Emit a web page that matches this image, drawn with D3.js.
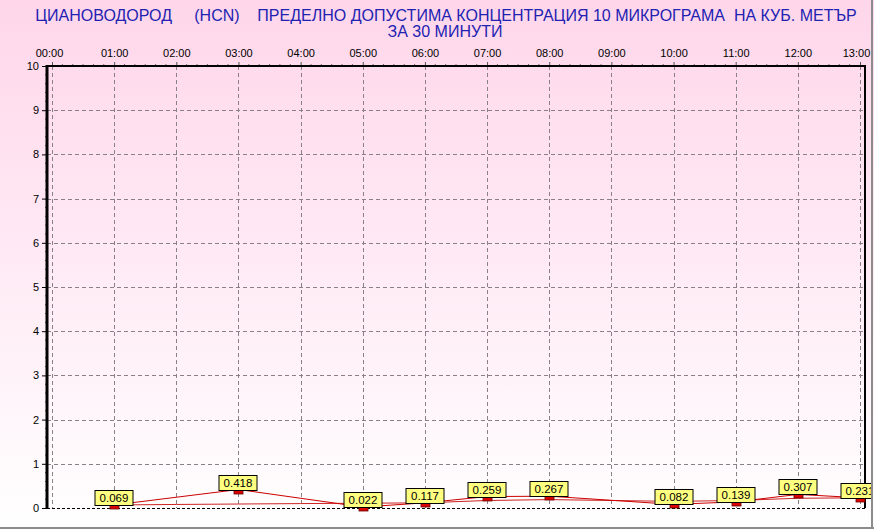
<!DOCTYPE html>
<html><head><meta charset="utf-8">
<script src="https://cdn.jsdelivr.net/npm/d3@7"></script>
<style>
html,body{margin:0;padding:0;background:#fff;}
svg{display:block;font-family:"Liberation Sans",Arial,sans-serif;}
</style></head>
<body><svg id="c" width="874" height="529"></svg>
<script>
const titleLines = ["ЦИАНОВОДОРОД     (HCN)    ПРЕДЕЛНО ДОПУСТИМА КОНЦЕНТРАЦИЯ 10 МИКРОГРАМА  НА КУБ. МЕТЪР", "ЗА 30 МИНУТИ"];
const hourLabels = ["00:00","01:00","02:00","03:00","04:00","05:00","06:00","07:00","08:00","09:00","10:00","11:00","12:00","13:00"];
const obsHours = [1,3,5,6,7,8,10,11,12,13];
const obsValues = [0.069,0.418,0.022,0.117,0.259,0.267,0.082,0.139,0.307,0.231];
const trendHours = [1,2,3,4,5,6,7,8,9,10,11,12,13];
const trendValues = [0.069,0.08,0.09,0.10,0.108,0.117,0.17,0.19,0.17,0.15,0.17,0.22,0.231];
const yTickValues = [0,1,2,3,4,5,6,7,8,9,10];

const svg = d3.select("#c");
const W = 874, H = 529;
const defs = svg.append("defs");
const grad = defs.append("linearGradient").attr("id","bg").attr("x1",0).attr("y1",0).attr("x2",0).attr("y2",1);
grad.append("stop").attr("offset","0%").attr("stop-color","#ffd6ea");
grad.append("stop").attr("offset","100%").attr("stop-color","#ffffff");
defs.append("clipPath").attr("id","frame").append("rect").attr("x",0).attr("y",0).attr("width",871).attr("height",527);

svg.append("rect").attr("width",W).attr("height",H).attr("fill","url(#bg)");

const x = d3.scaleLinear().domain([0,13]).range([52,860]);
const y = d3.scaleLinear().domain([0,10]).range([508,66]);
const plotL = 47, plotR = 865, plotT = y(10), plotB = y(0);

// title
const t = svg.append("g").attr("fill","#2222b2").attr("font-size","16px").attr("text-anchor","middle");
t.append("text").attr("x",446).attr("y",21).style("white-space","pre").text(titleLines[0]);
t.append("text").attr("x",445).attr("y",37).style("white-space","pre").text(titleLines[1]);

// gridlines
const grid = svg.append("g").attr("stroke","#8a8088").attr("stroke-width",1).attr("stroke-dasharray","4,3");
grid.selectAll("line.h").data(yTickValues.filter(v=>v>0&&v<10)).join("line")
  .attr("x1",plotL).attr("x2",plotR).attr("y1",d=>Math.round(y(d))+0.5).attr("y2",d=>Math.round(y(d))+0.5);
grid.selectAll("line.v").data(d3.range(0,14)).join("line")
  .attr("y1",plotT).attr("y2",plotB).attr("x1",d=>Math.round(x(d))+0.5).attr("x2",d=>Math.round(x(d))+0.5);

// zero line (dashed black)
svg.append("line").attr("x1",plotL).attr("x2",plotR).attr("y1",plotB+0.5).attr("y2",plotB+0.5)
  .attr("stroke","#000").attr("stroke-dasharray","3,2");

// top axis
const topAxis = d3.axisTop(x).tickValues(d3.range(0,14)).tickFormat(i=>hourLabels[i]).tickSize(4).tickPadding(5);
const gt = svg.append("g").attr("transform",`translate(0,${plotT})`).call(topAxis);
gt.select(".domain").remove();
gt.selectAll(".tick line").attr("stroke","#555");
gt.selectAll(".tick text").attr("font-size","11px").attr("fill","#000").attr("font-family","Liberation Sans, Arial, sans-serif");
gt.selectAll(".tick text").filter(d=>d===13).attr("dx",-4);
gt.selectAll(".tick text").filter(d=>d===0).attr("dx",-3);
const minorX = d3.range(0,13*6+1).map(i=>i/6).filter(v=>Math.abs(v-Math.round(v))>1e-6);
svg.append("g").selectAll("line").data(minorX).join("line")
  .attr("x1",d=>x(d)).attr("x2",d=>x(d)).attr("y1",plotT-2).attr("y2",plotT)
  .attr("stroke","#666");
svg.append("line").attr("x1",plotL).attr("x2",plotR+1).attr("y1",plotT).attr("y2",plotT).attr("stroke","#000").attr("stroke-width",2);
svg.append("line").attr("x1",plotR).attr("x2",plotR).attr("y1",plotT).attr("y2",plotB).attr("stroke","#000").attr("stroke-width",2);

// left axis
const leftAxis = d3.axisLeft(y).tickValues(yTickValues).tickSize(5).tickPadding(3);
const gl = svg.append("g").attr("transform",`translate(${plotL},0)`).call(leftAxis);
gl.select(".domain").remove();
gl.selectAll(".tick line").attr("stroke","#000");
gl.selectAll(".tick text").attr("font-size","11px").attr("fill","#000").attr("font-family","Liberation Sans, Arial, sans-serif");
const minorY = d3.range(0,51).map(i=>i/5).filter(v=>Math.abs(v-Math.round(v))>1e-6);
svg.append("g").selectAll("line").data(minorY).join("line")
  .attr("x1",plotL-2).attr("x2",plotL).attr("y1",d=>y(d)).attr("y2",d=>y(d)).attr("stroke","#555");
svg.append("line").attr("x1",plotL).attr("x2",plotL).attr("y1",plotT-1).attr("y2",plotB+1).attr("stroke","#000").attr("stroke-width",3);

// lines
const lineGen = d3.line().x(d=>x(d[0])).y(d=>y(d[1]));
const plotG = svg.append("g").attr("clip-path","url(#frame)");
plotG.append("path").datum(trendHours.map((h,i)=>[h,trendValues[i]]))
  .attr("d",lineGen).attr("fill","none").attr("stroke","#cc2222").attr("stroke-width",1);
plotG.append("path").datum(obsHours.map((h,i)=>[h,obsValues[i]]))
  .attr("d",lineGen).attr("fill","none").attr("stroke","#cc0000").attr("stroke-width",1);

// markers
plotG.selectAll("rect.m").data(obsHours.map((h,i)=>[h,obsValues[i]])).join("rect")
  .attr("x",d=>Math.round(x(d[0]))-4).attr("y",d=>Math.round(y(d[1]))-4)
  .attr("width",9).attr("height",8).attr("fill","#dd0000").attr("stroke","#660000").attr("stroke-width",0.8);

// labels
const fmt = d3.format(".3f");
const lab = plotG.selectAll("g.l").data(obsHours.map((h,i)=>[h,obsValues[i]])).join("g")
  .attr("transform",d=>`translate(${Math.round(x(d[0]))},${Math.round(y(d[1]))})`);
lab.append("rect").attr("x",-19).attr("y",-14.5).attr("width",38).attr("height",15)
  .attr("fill","#ffff80").attr("stroke","#000").attr("stroke-width",1);
lab.append("text").attr("x",0).attr("y",-3).attr("text-anchor","middle").attr("font-size","11.5px").attr("fill","#000")
  .text(d=>fmt(d[1]));

// frame
svg.append("line").attr("x1",872).attr("x2",872).attr("y1",0).attr("y2",529).attr("stroke","#8c8c8c").attr("stroke-width",2);
svg.append("line").attr("x1",0).attr("x2",874).attr("y1",528).attr("y2",528).attr("stroke","#8c8c8c").attr("stroke-width",2);
</script></body></html>
